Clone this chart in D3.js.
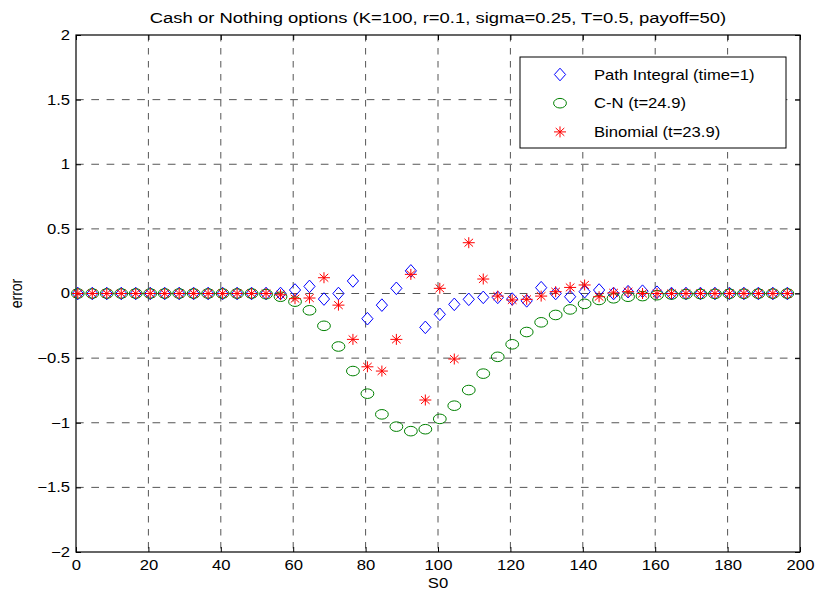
<!DOCTYPE html>
<html>
<head>
<meta charset="utf-8">
<script src="https://cdn.jsdelivr.net/npm/d3@7"></script>
<style>
  body { margin: 0; background: #fff; }
  text { font-family: "Liberation Sans", Arial, sans-serif; fill: #000; }
</style>
</head>
<body>
<div id="chart"></div>
<script>
// S0 grid of the run
var s0 = [0.5, 4.5, 8.5, 12.5, 16.5, 20.5, 24.5, 28.5, 32.5, 36.5,
          40.5, 44.5, 48.5, 52.5, 56.5, 60.5, 64.5, 68.5, 72.5, 76.5,
          80.5, 84.5, 88.5, 92.5, 96.5, 100.5, 104.5, 108.5, 112.5, 116.5,
          120.5, 124.5, 128.5, 132.5, 136.5, 140.5, 144.5, 148.5, 152.5, 156.5,
          160.5, 164.5, 168.5, 172.5, 176.5, 180.5, 184.5, 188.5, 192.5, 196.5];

var pathIntegral = [0, 0, 0, 0, 0, 0, 0, 0, 0, 0,
                    0, 0, 0, 0, 0, 0.027, 0.055, -0.043, 0, 0.097,
                    -0.195, -0.09, 0.04, 0.175, -0.262, -0.161, -0.084, -0.045, -0.03, -0.03,
                    -0.043, -0.057, 0.045, 0, -0.025, 0.014, 0.027, 0, 0.014, 0.018,
                    0.01, 0, 0, 0, 0, 0, 0, 0, 0, 0];

var crankNicolson = [0, 0, 0, 0, 0, 0, 0, 0, 0, 0,
                     0, 0, 0, -0.005, -0.025, -0.063, -0.13, -0.25, -0.41, -0.6,
                     -0.775, -0.935, -1.03, -1.065, -1.05, -0.97, -0.868, -0.747, -0.62, -0.49,
                     -0.393, -0.298, -0.223, -0.166, -0.123, -0.08, -0.05, -0.037, -0.025, -0.02,
                     -0.013, -0.008, -0.005, -0.004, -0.003, -0.002, -0.002, -0.001, -0.001, 0];

var binomial = [0, 0, 0, 0, 0, 0, 0, 0, 0, 0,
                0, 0, 0, 0, -0.01, -0.04, -0.035, 0.122, -0.09, -0.355,
                -0.567, -0.6, -0.355, 0.148, -0.824, 0.04, -0.507, 0.393, 0.112, -0.02,
                -0.05, -0.045, -0.02, 0.014, 0.047, 0.066, -0.025, 0.005, 0.014, 0,
                0, 0, 0, 0, 0, 0, 0, 0, 0, 0];

var seriesNames = ["Path Integral (time=1)", "C-N (t=24.9)", "Binomial (t=23.9)"];
var xTicks = [0, 20, 40, 60, 80, 100, 120, 140, 160, 180, 200];
var yTicks = [-2, -1.5, -1, -0.5, 0, 0.5, 1, 1.5, 2];
var titleText = "Cash or Nothing options (K=100, r=0.1, sigma=0.25, T=0.5, payoff=50)";

var W = 819, H = 594;
var margin = {top: 35, right: 19, bottom: 42, left: 76},
    width = W - margin.left - margin.right,
    height = H - margin.top - margin.bottom;
var SX = 1.19; // picture is stretched sideways

var svg = d3.select("#chart").append("svg")
    .attr("width", W)
    .attr("height", H);
var g = svg.append("g")
    .attr("transform", "translate(" + margin.left + "," + margin.top + ")");

var x = d3.scaleLinear().domain([0, 200]).range([0, width]);
var y = d3.scaleLinear().domain([-2, 2]).range([height, 0]);

// grid
g.selectAll(".vgrid")
    .data(xTicks.slice(1, -1))
  .enter().append("line")
    .attr("x1", d => x(d)).attr("x2", d => x(d))
    .attr("y1", 0).attr("y2", height)
    .attr("stroke", "#555").attr("stroke-dasharray", "6.5,6.5");
g.selectAll(".hgrid")
    .data(yTicks.slice(1, -1))
  .enter().append("line")
    .attr("y1", d => y(d)).attr("y2", d => y(d))
    .attr("x1", 0).attr("x2", width)
    .attr("stroke", "#555").attr("stroke-dasharray", "7.7,7.6");

// axes with inward ticks
var xAxis = d3.axisBottom(x).tickValues(xTicks).tickSizeInner(-5).tickSizeOuter(0).tickPadding(8);
var yAxis = d3.axisLeft(y).tickValues(yTicks).tickSizeInner(-5).tickSizeOuter(0).tickPadding(5)
    .tickFormat(d3.format("~g"));

var gx = g.append("g").attr("transform", "translate(0," + height + ")").call(xAxis);
var gy = g.append("g").call(yAxis);
g.append("g").call(d3.axisTop(x).tickValues(xTicks).tickSizeInner(-5).tickSizeOuter(0).tickFormat(""));
g.append("g").attr("transform", "translate(" + width + ",0)")
    .call(d3.axisRight(y).tickValues(yTicks).tickSizeInner(-5).tickSizeOuter(0).tickFormat(""));

g.selectAll(".domain").remove();
g.selectAll(".tick line").attr("stroke", "#000");
gx.selectAll("text").style("font-size", "14px").attr("transform", "scale(" + SX + ",1)");
gy.selectAll("text").style("font-size", "14px").attr("transform", "scale(" + SX + ",1)");

g.append("rect")
    .attr("width", width).attr("height", height)
    .attr("fill", "none").attr("stroke", "#000").attr("stroke-width", 1.2);

// markers
function diamond(sel, col) {
  sel.append("path")
    .attr("d", "M0,-6.3L5.6,0L0,6.3L-5.6,0Z")
    .attr("fill", "none").attr("stroke", col).attr("stroke-width", 1);
}
function ring(sel, col) {
  sel.append("ellipse")
    .attr("rx", 6.4).attr("ry", 4.8)
    .attr("fill", "none").attr("stroke", col).attr("stroke-width", 1);
}
function star(sel, col) {
  sel.append("path")
    .attr("d", "M-6,0L6,0M0,-5.5L0,5.5M-4.3,-3.9L4.3,3.9M-4.3,3.9L4.3,-3.9")
    .attr("fill", "none").attr("stroke", col).attr("stroke-width", 1);
}

var series = [
  {vals: pathIntegral, draw: diamond, color: "#0000ff"},
  {vals: crankNicolson, draw: ring, color: "#008000"},
  {vals: binomial, draw: star, color: "#ff0000"}
];

series.forEach(function(s) {
  g.append("g").selectAll("g")
      .data(s.vals)
    .enter().append("g")
      .attr("transform", (d, i) => "translate(" + x(s0[i]) + "," + y(d) + ")")
      .call(s.draw, s.color);
});

// text helper, stretched like the picture
function label(parent, px, py, str, anchor, rot, size) {
  var t = parent.append("g")
      .attr("transform", "translate(" + px + "," + py + ")" + (rot ? " rotate(-90)" : "") +
            (rot ? " scale(1," + SX + ")" : " scale(" + SX + ",1)"));
  return t.append("text").attr("text-anchor", anchor).style("font-size", (size || 14) + "px").text(str);
}

label(svg, margin.left + width / 2, 22.5, titleText, "middle", false, 15.5);
label(svg, margin.left + width / 2, 588, "S0", "middle");
label(svg, 21.5, margin.top + height / 2, "error", "middle", true);

// legend
var lg = svg.append("g").attr("transform", "translate(520,57)");
lg.append("rect").attr("width", 266).attr("height", 91)
    .attr("fill", "#fff").attr("stroke", "#000").attr("stroke-width", 1);
series.forEach(function(s, i) {
  var row = lg.append("g").attr("transform", "translate(0," + (17.5 + i * 28.7) + ")");
  row.append("g").attr("transform", "translate(40,0)").call(s.draw, s.color);
  label(row, 74, 5, seriesNames[i], "start");
});
</script>
</body>
</html>
